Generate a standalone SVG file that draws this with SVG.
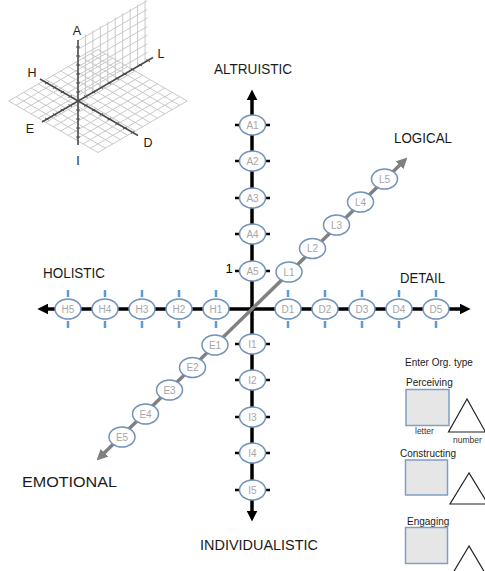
<svg xmlns="http://www.w3.org/2000/svg" width="485" height="571" viewBox="0 0 485 571">
<style>
.grid{stroke:#c9c9c9;stroke-width:1;fill:none;vector-effect:non-scaling-stroke}
.sax{stroke:#4a4a4a;stroke-width:1.6;fill:none}
.stk{stroke:#4a4a4a;stroke-width:1;fill:none;vector-effect:non-scaling-stroke}
.slbl{font-family:"Liberation Sans",Arial,sans-serif;font-size:12.5px;fill:#222;text-anchor:middle}
.axis{stroke:#000;stroke-width:3.5;fill:none}
.diag{stroke:#808080;stroke-width:3.5;fill:none}
.node ellipse{fill:#fff;stroke:#7393bb;stroke-width:1.5}
.node text{font-family:"Liberation Sans",Arial,sans-serif;font-size:10px;fill:#a6a6a6;text-anchor:middle}
.bt{stroke:#000;stroke-width:2.5}
.blt{stroke:#5b9bd5;stroke-width:2.5}
.big{font-family:"Liberation Sans",Arial,sans-serif;font-size:14px;fill:#1a1a1a}
.pl{font-family:"Liberation Sans",Arial,sans-serif;font-size:10px;fill:#1a1a1a}
.sm{font-family:"Liberation Sans",Arial,sans-serif;font-size:8.5px;fill:#333}
.box{fill:#e7e6e6;stroke:#7f9fc6;stroke-width:1.5}
.tri{fill:#fff;stroke:#222;stroke-width:1.2}
</style>
<defs>
<marker id="ab" viewBox="0 0 10 10" refX="4" refY="5" markerWidth="11" markerHeight="11" markerUnits="userSpaceOnUse" orient="auto-start-reverse"><path d="M0,0 L10,5 L0,10 z" fill="#000"/></marker>
<marker id="ag" viewBox="0 0 10 10" refX="4" refY="5" markerWidth="11" markerHeight="11" markerUnits="userSpaceOnUse" orient="auto-start-reverse"><path d="M0,0 L10,5 L0,10 z" fill="#808080"/></marker>
</defs>

<g id="icon">
<g transform="matrix(0.866 0.5 0.866 -0.5 78 101)">
<path class="grid" d="M-40,-40H63M-40,-31.4H63M-40,-22.8H63M-40,-14.2H63M-40,-5.7H63M-40,2.9H63M-40,11.5H63M-40,20.1H63M-40,28.7H63M-40,37.2H63M-40,45.8H63M-40,54.4H63M-40,63H63M-40,-40V63M-31.4,-40V63M-22.8,-40V63M-14.2,-40V63M-5.7,-40V63M2.9,-40V63M11.5,-40V63M20.1,-40V63M28.7,-40V63M37.2,-40V63M45.8,-40V63M54.4,-40V63M63,-40V63"/>
<path class="stk" d="M-36,-2V2M-27,-2V2M-18,-2V2M-9,-2V2M9,-2V2M18,-2V2M27,-2V2M36,-2V2M45,-2V2M54,-2V2M63,-2V2M-2,-36H2M-2,-27H2M-2,-18H2M-2,-9H2M-2,9H2M-2,18H2M-2,27H2M-2,36H2M-2,45H2M-2,54H2M-2,63H2M-2,72H2M-2,81H2"/>
</g>
<g transform="matrix(0.866 -0.5 0 -1 78 101)">
<path class="grid" d="M8.6,0V62M17.2,0V62M25.8,0V62M34.4,0V62M43,0V62M51.6,0V62M60.2,0V62M68.8,0V62M77.4,0V62M0,8.6H80M0,17.2H80M0,25.8H80M0,34.4H80M0,43H80M0,51.6H80M0,60.2H80"/>
</g>
<line class="sax" x1="78" y1="40" x2="78" y2="145"/>
<line class="sax" x1="40" y1="79" x2="138" y2="135.5"/>
<line class="sax" x1="42" y1="122" x2="153" y2="57.5"/>
<path class="stk" d="M76,47H80M76,56H80M76,65H80M76,74H80M76,83H80M76,92H80M76,110H80M76,119H80M76,128H80M76,137H80"/>
<text class="slbl" x="77" y="35">A</text>
<text class="slbl" x="32" y="77">H</text>
<text class="slbl" x="161" y="58">L</text>
<text class="slbl" x="30" y="133">E</text>
<text class="slbl" x="148" y="147">D</text>
<text class="slbl" x="78" y="165">I</text>
</g>

<g id="connectors">
<line class="axis" x1="252" y1="515" x2="252" y2="96" marker-start="url(#ab)" marker-end="url(#ab)"/>
<line class="axis" x1="44" y1="309" x2="464" y2="309" marker-start="url(#ab)" marker-end="url(#ab)"/>
<line class="diag" x1="101.3" y1="455.8" x2="402.7" y2="162.2" marker-start="url(#ag)" marker-end="url(#ag)"/>
</g>

<g id="labels">
<text class="big" x="253" y="74" text-anchor="middle" textLength="78" lengthAdjust="spacingAndGlyphs">ALTRUISTIC</text>
<text class="big" x="394" y="143" textLength="58" lengthAdjust="spacingAndGlyphs">LOGICAL</text>
<text class="big" x="400" y="283" textLength="45" lengthAdjust="spacingAndGlyphs">DETAIL</text>
<text class="big" x="43" y="278" textLength="62" lengthAdjust="spacingAndGlyphs">HOLISTIC</text>
<text class="big" x="22" y="487" textLength="95" lengthAdjust="spacingAndGlyphs">EMOTIONAL</text>
<text class="big" x="200" y="550" textLength="118" lengthAdjust="spacingAndGlyphs">INDIVIDUALISTIC</text>
<text x="225.5" y="273" font-family="Liberation Sans, Arial, sans-serif" font-size="13" fill="#000">1</text>
</g>

<g id="A1" class="node"><line class="bt" x1="235" y1="125" x2="240" y2="125"/><line class="bt" x1="265" y1="125" x2="270" y2="125"/><ellipse cx="252.5" cy="125" rx="13" ry="10"/><text x="252.5" y="128.5">A1</text></g>
<g id="A2" class="node"><line class="bt" x1="235" y1="161" x2="240" y2="161"/><line class="bt" x1="265" y1="161" x2="270" y2="161"/><ellipse cx="252.5" cy="161" rx="13" ry="10"/><text x="252.5" y="164.5">A2</text></g>
<g id="A3" class="node"><line class="bt" x1="235" y1="198" x2="240" y2="198"/><line class="bt" x1="265" y1="198" x2="270" y2="198"/><ellipse cx="252.5" cy="198" rx="13" ry="10"/><text x="252.5" y="201.5">A3</text></g>
<g id="A4" class="node"><line class="bt" x1="235" y1="234" x2="240" y2="234"/><line class="bt" x1="265" y1="234" x2="270" y2="234"/><ellipse cx="252.5" cy="234" rx="13" ry="10"/><text x="252.5" y="237.5">A4</text></g>
<g id="A5" class="node"><line class="bt" x1="235" y1="271" x2="240" y2="271"/><line class="bt" x1="265" y1="271" x2="270" y2="271"/><ellipse cx="252.5" cy="271" rx="13" ry="10"/><text x="252.5" y="274.5">A5</text></g>

<g id="I1" class="node"><line class="bt" x1="235" y1="344" x2="240" y2="344"/><line class="bt" x1="265" y1="344" x2="270" y2="344"/><ellipse cx="252.5" cy="344" rx="13" ry="10"/><text x="252.5" y="347.5">I1</text></g>
<g id="I2" class="node"><line class="bt" x1="235" y1="380" x2="240" y2="380"/><line class="bt" x1="265" y1="380" x2="270" y2="380"/><ellipse cx="252.5" cy="380" rx="13" ry="10"/><text x="252.5" y="383.5">I2</text></g>
<g id="I3" class="node"><line class="bt" x1="235" y1="417" x2="240" y2="417"/><line class="bt" x1="265" y1="417" x2="270" y2="417"/><ellipse cx="252.5" cy="417" rx="13" ry="10"/><text x="252.5" y="420.5">I3</text></g>
<g id="I4" class="node"><line class="bt" x1="235" y1="453" x2="240" y2="453"/><line class="bt" x1="265" y1="453" x2="270" y2="453"/><ellipse cx="252.5" cy="453" rx="13" ry="10"/><text x="252.5" y="456.5">I4</text></g>
<g id="I5" class="node"><line class="bt" x1="235" y1="490" x2="240" y2="490"/><line class="bt" x1="265" y1="490" x2="270" y2="490"/><ellipse cx="252.5" cy="490" rx="13" ry="10"/><text x="252.5" y="493.5">I5</text></g>

<g id="H1" class="node"><line class="blt" x1="216" y1="290" x2="216" y2="297"/><line class="blt" x1="216" y1="321" x2="216" y2="328"/><ellipse cx="216" cy="309" rx="13" ry="10"/><text x="216" y="312.5">H1</text></g>
<g id="H2" class="node"><line class="blt" x1="179" y1="290" x2="179" y2="297"/><line class="blt" x1="179" y1="321" x2="179" y2="328"/><ellipse cx="179" cy="309" rx="13" ry="10"/><text x="179" y="312.5">H2</text></g>
<g id="H3" class="node"><line class="blt" x1="142" y1="290" x2="142" y2="297"/><line class="blt" x1="142" y1="321" x2="142" y2="328"/><ellipse cx="142" cy="309" rx="13" ry="10"/><text x="142" y="312.5">H3</text></g>
<g id="H4" class="node"><line class="blt" x1="105" y1="290" x2="105" y2="297"/><line class="blt" x1="105" y1="321" x2="105" y2="328"/><ellipse cx="105" cy="309" rx="13" ry="10"/><text x="105" y="312.5">H4</text></g>
<g id="H5" class="node"><line class="blt" x1="68" y1="290" x2="68" y2="297"/><line class="blt" x1="68" y1="321" x2="68" y2="328"/><ellipse cx="68" cy="309" rx="13" ry="10"/><text x="68" y="312.5">H5</text></g>

<g id="D1" class="node"><line class="blt" x1="288" y1="290" x2="288" y2="297"/><line class="blt" x1="288" y1="321" x2="288" y2="328"/><ellipse cx="288" cy="309" rx="13" ry="10"/><text x="288" y="312.5">D1</text></g>
<g id="D2" class="node"><line class="blt" x1="325" y1="290" x2="325" y2="297"/><line class="blt" x1="325" y1="321" x2="325" y2="328"/><ellipse cx="325" cy="309" rx="13" ry="10"/><text x="325" y="312.5">D2</text></g>
<g id="D3" class="node"><line class="blt" x1="362" y1="290" x2="362" y2="297"/><line class="blt" x1="362" y1="321" x2="362" y2="328"/><ellipse cx="362" cy="309" rx="13" ry="10"/><text x="362" y="312.5">D3</text></g>
<g id="D4" class="node"><line class="blt" x1="399" y1="290" x2="399" y2="297"/><line class="blt" x1="399" y1="321" x2="399" y2="328"/><ellipse cx="399" cy="309" rx="13" ry="10"/><text x="399" y="312.5">D4</text></g>
<g id="D5" class="node"><line class="blt" x1="436" y1="290" x2="436" y2="297"/><line class="blt" x1="436" y1="321" x2="436" y2="328"/><ellipse cx="436" cy="309" rx="13" ry="10"/><text x="436" y="312.5">D5</text></g>

<g id="L1" class="node"><ellipse cx="289" cy="272" rx="13" ry="10"/><text x="289" y="275.5">L1</text></g>
<g id="L2" class="node"><ellipse cx="312.5" cy="248.5" rx="13" ry="10"/><text x="312.5" y="252">L2</text></g>
<g id="L3" class="node"><ellipse cx="336.5" cy="225" rx="13" ry="10"/><text x="336.5" y="228.5">L3</text></g>
<g id="L4" class="node"><ellipse cx="360.5" cy="202" rx="13" ry="10"/><text x="360.5" y="205.5">L4</text></g>
<g id="L5" class="node"><ellipse cx="384.5" cy="179" rx="13" ry="10"/><text x="384.5" y="182.5">L5</text></g>

<g id="E1" class="node"><ellipse cx="215" cy="345" rx="13" ry="10"/><text x="215" y="348.5">E1</text></g>
<g id="E2" class="node"><ellipse cx="192.5" cy="367.5" rx="13" ry="10"/><text x="192.5" y="371">E2</text></g>
<g id="E3" class="node"><ellipse cx="169.5" cy="390" rx="13" ry="10"/><text x="169.5" y="393.5">E3</text></g>
<g id="E4" class="node"><ellipse cx="145.5" cy="414" rx="13" ry="10"/><text x="145.5" y="417.5">E4</text></g>
<g id="E5" class="node"><ellipse cx="122" cy="437" rx="13" ry="10"/><text x="122" y="440.5">E5</text></g>

<g id="panel">
<text class="pl" x="405" y="366">Enter Org. type</text>
<g id="perceiving">
<text class="pl" x="406" y="386">Perceiving</text>
<rect class="box" x="406" y="389.5" width="43" height="36"/>
<text class="sm" x="415" y="434">letter</text>
<polygon class="tri" points="467,399 448.5,432 485.5,432"/>
<text class="sm" x="453" y="443">number</text>
</g>
<g id="constructing">
<text class="pl" x="400" y="457">Constructing</text>
<rect class="box" x="405.5" y="460" width="42" height="35"/>
<polygon class="tri" points="469,473 450,504 488,504"/>
</g>
<g id="engaging">
<text class="pl" x="407" y="525">Engaging</text>
<rect class="box" x="405.5" y="527.5" width="42" height="36"/>
<polygon class="tri" points="469,546 450,578 488,578"/>
</g>
</g>
</svg>
